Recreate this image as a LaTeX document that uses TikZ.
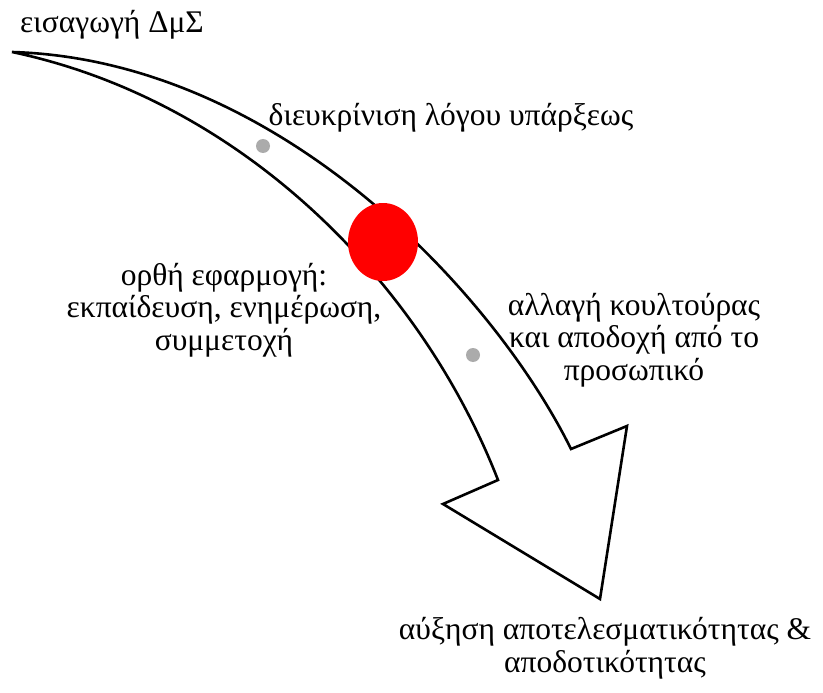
\documentclass[tikz,border=0pt]{standalone}
\usepackage{fontspec}
\setmainfont{Liberation Serif}
\usetikzlibrary{shapes.geometric}
\begin{document}
\begin{tikzpicture}[x=1pt,y=-1pt,
  lbl/.style={font=\fontsize{31.5}{32.5}\selectfont, align=center, anchor=base, inner sep=0pt},
  arrowline/.style={draw=black, line width=2.6pt, fill=white, line join=miter},
  dot/.style={circle, fill=black!33, minimum size=14pt, inner sep=0pt},
  hub/.style={ellipse, fill=red, minimum width=70pt, minimum height=78pt, inner sep=0pt}]
\useasboundingbox (0,0) rectangle (823,693);
\coordinate (tail) at (12,52);
\coordinate (rn) at (571,449);
\coordinate (rc) at (627,426);
\coordinate (tip) at (600,599);
\coordinate (lc) at (443,504);
\coordinate (ln) at (498,480);
\path[arrowline] (tail) .. controls (280,60) and (495,295) .. (rn)
  -- (rc) -- (tip) -- (lc) -- (ln)
  .. controls (420,280) and (240,100) .. (tail) -- cycle;
\node[hub] (hubc) at (383,242) {};
\node[dot] (d1) at (263,146) {};
\node[dot] (d2) at (473,355) {};
\node[lbl] (t1) at (112,33) {εισαγωγή ΔμΣ};
\node[lbl] (t2) at (451,125) {διευκρίνιση λόγου υπάρξεως};
\node[lbl] (t3) at (224,350) {ορθή εφαρμογή:\\εκπαίδευση, ενημέρωση,\\συμμετοχή};
\node[lbl] (t4) at (634,380) {αλλαγή κουλτούρας\\και αποδοχή από το\\προσωπικό};
\node[lbl] (t5) at (605,672) {αύξηση αποτελεσματικότητας \&\\αποδοτικότητας};
\end{tikzpicture}
\end{document}
